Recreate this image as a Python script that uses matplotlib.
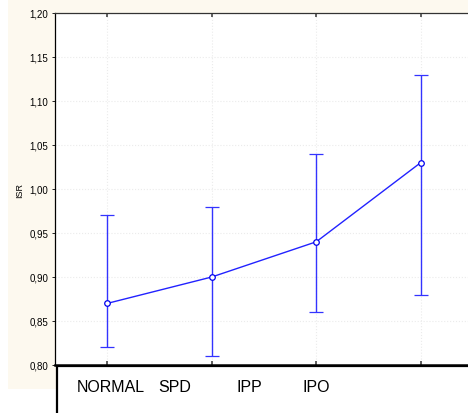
import matplotlib
matplotlib.use("Agg")
import matplotlib.pyplot as plt
from matplotlib.patches import Rectangle
from matplotlib.ticker import FuncFormatter
import numpy as np

groups = ["NORMAL", "SPD", "IPP", "IPO"]
means = [0.87, 0.90, 0.94, 1.03]
upper = [0.97, 0.98, 1.04, 1.13]
lower = [0.82, 0.81, 0.86, 0.88]
label_x = [77, 158, 236, 302]  # pixel positions of the group labels in the box

plt.rcParams["font.family"] = ["Liberation Sans", "DejaVu Sans"]

W, H = 468, 414
fig = plt.figure(figsize=(W / 100, H / 100), dpi=100)

cream = "#fdf9ef"
fig.patches.append(Rectangle((8 / W, 1 - 390 / H), 1, 390 / H, transform=fig.transFigure,
                             facecolor=cream, edgecolor="none", zorder=-2))
fig.patches.append(Rectangle((57 / W, -0.1), 1, (0.1 + (414 - 367) / H), transform=fig.transFigure,
                             facecolor="white", edgecolor="black", linewidth=1.6, zorder=-1))

ax = fig.add_axes([55 / W, (414 - 366) / H, (473 - 55) / W, (366 - 14) / H])
ax.set_zorder(2)
ax.set_facecolor("white")

x = np.arange(1, len(means) + 1)
m = np.array(means)
yerr = [m - np.array(lower), np.array(upper) - m]
ax.errorbar(x, m, yerr=yerr, color="#2222ff", ecolor="#3333ff", elinewidth=1.0,
            capsize=5, capthick=1.0, linewidth=1.0, marker="o", markersize=4,
            markerfacecolor="white", markeredgecolor="#0000ee", markeredgewidth=0.9)

ax.set_xlim(0.5, 4.5)
ax.set_ylim(0.80, 1.20)
ax.set_yticks(np.arange(0.80, 1.2001, 0.05))
ax.yaxis.set_major_formatter(FuncFormatter(lambda v, p: f"{v:.2f}".replace(".", ",")))
ax.set_xticks(x)
ax.set_xticklabels([])
ax.tick_params(axis="y", labelsize=7, length=2, width=0.6, pad=3)
ax.tick_params(axis="x", direction="in", length=3, width=1.2, top=True, colors="#444444")
ax.grid(True, color="#ebebeb", linestyle=":", linewidth=0.8)
ax.set_axisbelow(True)

for s in ["left", "top"]:
    ax.spines[s].set_linewidth(0.9)
ax.spines["top"].set_color("#333333")
ax.spines["right"].set_visible(False)
ax.spines["bottom"].set_linewidth(1.8)

fig.text(20 / W, 1 - 190 / H, "ISR", rotation=90, fontsize=6.5, ha="center", va="center")
for name, px in zip(groups, label_x):
    fig.text(px / W, 1 - 388 / H, name, fontsize=11.5, ha="left", va="center")

fig.savefig("out.png", dpi=100)
